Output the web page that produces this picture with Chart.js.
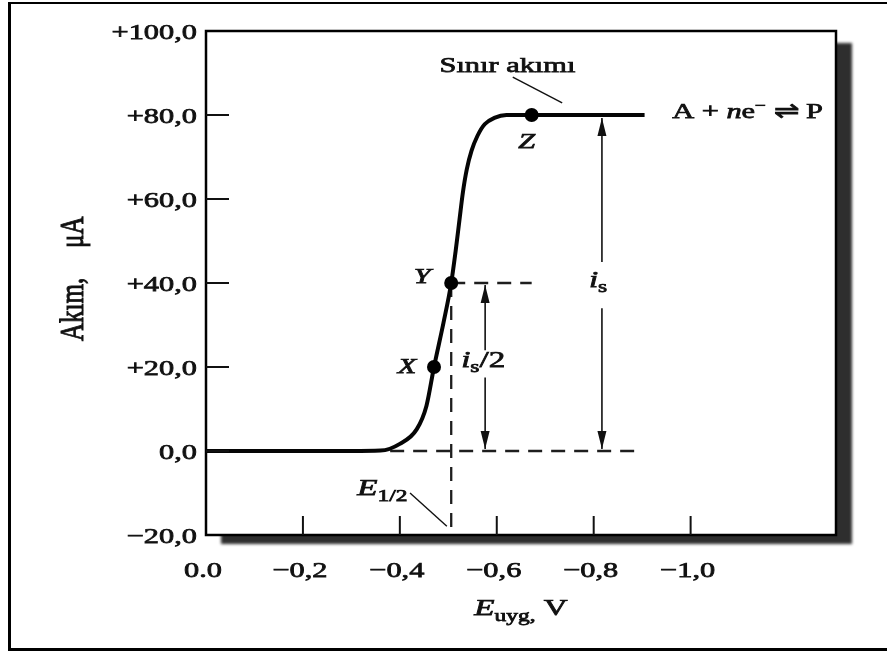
<!DOCTYPE html>
<html>
<head>
<meta charset="utf-8">
<script src="https://cdn.jsdelivr.net/npm/chart.js@4.4.1/dist/chart.umd.min.js"></script>
<style>
  html, body { margin: 0; padding: 0; background: #fff; }
  canvas { display: block; }
</style>
</head>
<body>
<canvas id="myChart" width="887" height="652"></canvas>
<script>
// polarogram, values
var potential = [0, -0.10, -0.20, -0.30, -0.36, -0.40, -0.435, -0.455, -0.4705, -0.49, -0.506,
  -0.515, -0.523, -0.530, -0.538, -0.548, -0.560, -0.575, -0.595, -0.620, -0.672, -0.75, -0.85, -0.905];
var current = [0, 0, 0, 0, 0.1, 1.7, 5.2, 10.8, 20, 30.5, 40,
  47.5, 55, 61.5, 67, 71.5, 75, 77.8, 79.3, 80, 80, 80, 80, 80];

var pointNames = ["X", "Y", "Z"];
var pointE = [-0.4705, -0.506, -0.672];
var pointI = [20, 40, 80];

var halfWaveE = -0.506;
var halfCurrent = 40;
var limitCurrent = 80;

var xTicks = [0, -0.2, -0.4, -0.6, -0.8, -1.0];
var xTickLabels = ["0.0", "\u22120,2", "\u22120,4", "\u22120,6", "\u22120,8", "\u22121,0"];
var yTicks = [100, 80, 60, 40, 20, 0, -20];
var yTickLabels = ["+100,0", "+80,0", "+60,0", "+40,0", "+20,0", "0,0", "\u221220,0"];

// the scan is stretched sideways, so text gets the same stretch
var SX = 1.38;
var INK = "#111";

function font(size, italic) {
  return (italic ? "italic " : "") + size + "px 'Liberation Serif', serif";
}

function runWidth(ctx, parts) {
  var w = 0;
  parts.forEach(function (p) {
    ctx.font = font(p.size, p.it);
    w += ctx.measureText(p.t).width * SX;
  });
  return w;
}

function drawRun(ctx, x, y, parts, align) {
  var w = runWidth(ctx, parts);
  var cx = x;
  if (align === "center") cx = x - w / 2;
  if (align === "right") cx = x - w;
  ctx.textAlign = "left";
  ctx.textBaseline = "alphabetic";
  ctx.fillStyle = INK;
  ctx.strokeStyle = INK;
  ctx.lineWidth = 0.75;
  parts.forEach(function (p) {
    ctx.font = font(p.size, p.it);
    ctx.save();
    ctx.translate(cx, y + (p.dy || 0));
    ctx.scale(SX, 1);
    ctx.fillText(p.t, 0, 0);
    ctx.strokeText(p.t, 0, 0);
    ctx.restore();
    cx += ctx.measureText(p.t).width * SX;
  });
}

function head(ctx, x, y, dir) {
  ctx.beginPath();
  ctx.moveTo(x, y);
  ctx.lineTo(x - 4.5, y - dir * 18);
  ctx.lineTo(x + 4.5, y - dir * 18);
  ctx.closePath();
  ctx.fill();
}

function line(ctx, x1, y1, x2, y2) {
  ctx.beginPath();
  ctx.moveTo(x1, y1);
  ctx.lineTo(x2, y2);
  ctx.stroke();
}

var paper = {
  id: "paper",
  beforeDraw: function (chart) {
    var ctx = chart.ctx, a = chart.chartArea;
    ctx.save();
    ctx.fillStyle = "#fff";
    ctx.fillRect(0, 0, chart.width, chart.height);
    // drop shadow behind the frame
    ctx.filter = "blur(1.5px)";
    ctx.fillStyle = "#2e2e2e";
    ctx.fillRect(a.left + 15, a.top + 12, a.right - a.left + 1, a.bottom - a.top - 3);
    ctx.filter = "none";
    ctx.fillStyle = "#fff";
    ctx.fillRect(a.left, a.top, a.right - a.left, a.bottom - a.top);
    // page border
    ctx.strokeStyle = "#000";
    ctx.lineWidth = 2;
    line(ctx, 8, 3, 887, 3);
    ctx.lineWidth = 3;
    line(ctx, 9.5, 2, 9.5, 651);
    line(ctx, 8, 649.5, 887, 649.5);
    // frame
    ctx.lineWidth = 2.5;
    ctx.strokeRect(a.left, a.top, a.right - a.left, a.bottom - a.top);
    ctx.restore();
  },
  afterDatasetsDraw: function (chart) {
    var ctx = chart.ctx, a = chart.chartArea;
    var xs = chart.scales.x, ys = chart.scales.y;
    var X = function (e) { return xs.getPixelForValue(e); };
    var Y = function (i) { return ys.getPixelForValue(i); };
    ctx.save();
    ctx.strokeStyle = INK;
    ctx.fillStyle = INK;

    // inward tick marks
    ctx.lineWidth = 2;
    yTicks.slice(1, -1).forEach(function (v) {
      line(ctx, a.left, Y(v), a.left + 23, Y(v));
    });
    xTicks.slice(1).forEach(function (v) {
      line(ctx, X(v), a.bottom, X(v), a.bottom - 19);
    });

    // i_s/2 double arrow
    ctx.lineWidth = 1.6;
    var ax = X(-0.576);
    line(ctx, ax, Y(halfCurrent) + 2, ax, Y(24));
    line(ctx, ax, Y(17.5), ax, Y(0) - 2);
    head(ctx, ax, Y(halfCurrent) + 2, -1);
    head(ctx, ax, Y(0) - 2, 1);

    // i_s double arrow
    var bx = X(-0.817);
    line(ctx, bx, Y(limitCurrent) + 3, bx, Y(45));
    line(ctx, bx, Y(34), bx, Y(0) - 2);
    head(ctx, bx, Y(limitCurrent) + 3, -1);
    head(ctx, bx, Y(0) - 2, 1);

    // leader lines
    ctx.lineWidth = 1.4;
    line(ctx, X(-0.633), Y(89), X(-0.735), Y(82.9));
    line(ctx, X(-0.421), Y(-10), X(-0.497), Y(-17.9));
    ctx.restore();
  },
  afterDraw: function (chart) {
    var ctx = chart.ctx, a = chart.chartArea;
    var xs = chart.scales.x, ys = chart.scales.y;
    var X = function (e) { return xs.getPixelForValue(e); };
    var Y = function (i) { return ys.getPixelForValue(i); };
    ctx.save();

    yTicks.forEach(function (v, i) {
      drawRun(ctx, a.left - 9, Y(v) + 7.5, [{ t: yTickLabels[i], size: 22 }], "right");
    });
    xTicks.forEach(function (v, i) {
      drawRun(ctx, X(v) - 3, a.bottom + 42, [{ t: xTickLabels[i], size: 22 }], "center");
    });

    // axis titles
    drawRun(ctx, (a.left + a.right) / 2, a.bottom + 80, [
      { t: "E", size: 24, it: true },
      { t: "uyg,", size: 17, dy: 6 },
      { t: " V", size: 24 }
    ], "center");

    ctx.save();
    ctx.translate(83, 341);
    ctx.rotate(-Math.PI / 2);
    ctx.scale(1, SX);
    ctx.font = font(25);
    ctx.fillStyle = INK;
    ctx.strokeStyle = INK;
    ctx.lineWidth = 0.75;
    ctx.textBaseline = "alphabetic";
    ctx.fillText("Ak\u0131m,", 0, 0);
    ctx.strokeText("Ak\u0131m,", 0, 0);
    ctx.fillText("\u03bcA", 93, 0);
    ctx.strokeText("\u03bcA", 93, 0);
    ctx.restore();

    // annotations
    drawRun(ctx, X(-0.622), Y(90.2), [{ t: "S\u0131n\u0131r ak\u0131m\u0131", size: 22 }], "center");
    drawRun(ctx, X(-0.962), Y(79.3), [
      { t: "A + ", size: 22 },
      { t: "n", size: 22, it: true },
      { t: "e", size: 22 },
      { t: "\u2212", size: 14, dy: -8 },
      { t: " \u21cc P", size: 22 }
    ], "left");

    var labelAt = [[-0.662, 72.1], [-0.446, 40], [-0.415, 18.6]];
    ["Z", "Y", "X"].forEach(function (n, i) {
      drawRun(ctx, X(labelAt[i][0]), Y(labelAt[i][1]), [{ t: n, size: 22, it: true }], "center");
    });

    drawRun(ctx, X(-0.572), Y(20), [
      { t: "i", size: 24, it: true },
      { t: "s", size: 17, dy: 5 },
      { t: "/2", size: 24 }
    ], "center");
    drawRun(ctx, X(-0.809), Y(39), [
      { t: "i", size: 24, it: true },
      { t: "s", size: 17, dy: 5 }
    ], "center");
    drawRun(ctx, X(-0.312), Y(-10.5), [
      { t: "E", size: 24, it: true },
      { t: "1/2", size: 17, dy: 6 }
    ], "left");

    ctx.restore();
  }
};

var curve = potential.map(function (e, i) { return { x: e, y: current[i] }; });
var marks = pointE.map(function (e, i) { return { x: e, y: pointI[i], name: pointNames[i] }; });

var dashStyle = {
  showLine: true,
  pointRadius: 0,
  borderColor: "#1e1e1e",
  borderWidth: 2.3,
  borderDash: [14, 9],
  fill: false
};

var config = {
  type: "scatter",
  data: {
    datasets: [
      {
        label: "points",
        data: marks,
        pointRadius: 7,
        pointBackgroundColor: "#000",
        pointBorderWidth: 0,
        showLine: false
      },
      {
        label: "wave",
        data: curve,
        showLine: true,
        pointRadius: 0,
        borderColor: "#050505",
        borderWidth: 4,
        cubicInterpolationMode: "monotone",
        fill: false
      },
      Object.assign({ label: "baseline", data: [{ x: -0.38, y: 0 }, { x: -0.893, y: 0 }] }, dashStyle),
      Object.assign({ label: "half", data: [{ x: halfWaveE, y: halfCurrent }, { x: pointE[2], y: halfCurrent }] }, dashStyle),
      Object.assign({ label: "e12", data: [{ x: halfWaveE, y: halfCurrent }, { x: halfWaveE, y: -20 }] }, dashStyle)
    ]
  },
  options: {
    responsive: false,
    animation: false,
    layout: { padding: { left: 0, top: 31, right: 51, bottom: 0 } },
    plugins: {
      legend: { display: false },
      tooltip: { enabled: false }
    },
    scales: {
      x: {
        type: "linear",
        min: -1.3,
        max: 0,
        reverse: true,
        grid: { display: false, drawTicks: false },
        border: { display: false },
        ticks: { display: false },
        afterFit: function (scale) { scale.height = 117; }
      },
      y: {
        type: "linear",
        min: -20,
        max: 100,
        grid: { display: false, drawTicks: false },
        border: { display: false },
        ticks: { display: false },
        afterFit: function (scale) { scale.width = 206; }
      }
    }
  },
  plugins: [paper]
};

var myChart = new Chart(document.getElementById("myChart"), config);
</script>
</body>
</html>
